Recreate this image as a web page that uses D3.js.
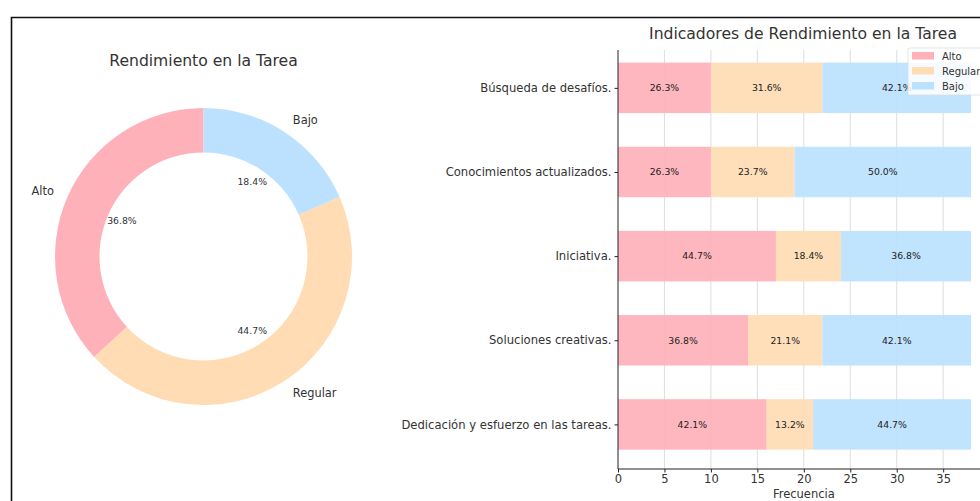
<!DOCTYPE html>
<html>
<head>
<meta charset="utf-8">
<script src="https://cdn.jsdelivr.net/npm/d3@7"></script>
<style>
  html, body { margin: 0; padding: 0; background: #fff; }
  svg { display: block; font-family: "DejaVu Sans", sans-serif; }
</style>
</head>
<body>
<svg id="chart" width="980" height="501"></svg>
<script>
// Overall performance (donut)
const levels = ["Alto", "Regular", "Bajo"];
const levelCounts = [14, 17, 7];
const levelColors = ["#ffb1ba", "#ffdcb4", "#bbe1fe"];

// Indicators (stacked horizontal bars), counts out of 38
const indicators = [
  "Búsqueda de desafíos.",
  "Conocimientos actualizados.",
  "Iniciativa.",
  "Soluciones creativas.",
  "Dedicación y esfuerzo en las tareas."
];
const altoCounts = [10, 10, 17, 14, 16];
const regularCounts = [12, 9, 7, 8, 5];
const bajoCounts = [16, 19, 14, 16, 17];
const xTicks = [0, 5, 10, 15, 20, 25, 30, 35];

const svg = d3.select("#chart");
const textColor = "#333";

// Frame around the figure
svg.append("path")
  .attr("d", "M11.5,501 L11.5,17.5 L980,17.5")
  .attr("fill", "none").attr("stroke", "#111").attr("stroke-width", 1.6);

// ---------- Donut ----------
const cx = 203.5, cy = 256.5, rOuter = 148.5, rInner = 104;
const donut = svg.append("g").attr("transform", `translate(${cx},${cy})`);

donut.append("text")
  .attr("x", 0).attr("y", 60 - cy + 5.5)
  .attr("text-anchor", "middle")
  .attr("font-size", 15.6).attr("fill", textColor)
  .text("Rendimiento en la Tarea");

// slices run counter-clockwise from 12 o'clock: Alto, Regular, Bajo
const total = d3.sum(levelCounts);
const pieData = levels.map((name, i) => ({ name, value: levelCounts[i], color: levelColors[i] }));
let acc = 0;
pieData.forEach(d => {
  d.startAngle = -(acc + d.value) / total * 2 * Math.PI;
  d.endAngle = -acc / total * 2 * Math.PI;
  acc += d.value;
});
const arc = d3.arc().innerRadius(rInner).outerRadius(rOuter);
donut.selectAll("path.slice").data(pieData).join("path")
  .attr("class", "slice")
  .attr("d", arc)
  .attr("fill", d => d.color);

const pos = (d, r) => {
  const a = (d.startAngle + d.endAngle) / 2; // angle clockwise from top
  return [r * Math.sin(a), -r * Math.cos(a)];
};
donut.selectAll("text.lab").data(pieData).join("text")
  .attr("class", "lab")
  .attr("x", d => pos(d, rOuter * 1.1)[0])
  .attr("y", d => pos(d, rOuter * 1.1)[1])
  .attr("dy", "0.35em")
  .attr("text-anchor", d => pos(d, 1)[0] < 0 ? "end" : "start")
  .attr("font-size", 11.4).attr("fill", textColor)
  .text(d => d.name);
donut.selectAll("text.pct").data(pieData).join("text")
  .attr("class", "pct")
  .attr("x", d => pos(d, rOuter * 0.6)[0])
  .attr("y", d => pos(d, rOuter * 0.6)[1])
  .attr("dy", "0.35em")
  .attr("text-anchor", "middle")
  .attr("font-size", 9.3).attr("fill", textColor)
  .text(d => (d.value / total * 100).toFixed(1) + "%");

// ---------- Stacked bars ----------
const x = d3.scaleLinear().domain([0, 39.9]).range([618, 988.7]);
const y = d3.scaleLinear().domain([-0.45, 4.53]).range([50, 469]);
const barH = 0.6 * (y(1) - y(0));

const bars = svg.append("g");

// vertical grid
bars.selectAll("line.grid").data(xTicks.slice(1)).join("line")
  .attr("class", "grid")
  .attr("x1", d => x(d)).attr("x2", d => x(d))
  .attr("y1", 50).attr("y2", 469)
  .attr("stroke", "#d6d6d6").attr("stroke-width", 0.8);

const rows = indicators.map((name, i) => ({
  name, i, Alto: altoCounts[i], Regular: regularCounts[i], Bajo: bajoCounts[i]
}));
const stack = d3.stack().keys(levels)(rows);
stack.forEach((layer, k) => {
  const g = bars.append("g");
  g.selectAll("rect").data(layer).join("rect")
    .attr("x", d => x(d[0]))
    .attr("width", d => x(d[1]) - x(d[0]))
    .attr("y", d => y(d.data.i) - barH / 2)
    .attr("height", barH)
    .attr("fill", levelColors[k])
    .attr("fill-opacity", 0.92);
  g.selectAll("text").data(layer).join("text")
    .attr("x", d => (x(d[0]) + x(d[1])) / 2)
    .attr("y", d => y(d.data.i))
    .attr("dy", "0.35em")
    .attr("text-anchor", "middle")
    .attr("font-size", 9.3).attr("fill", "#222")
    .text(d => {
      const tot = d.data.Alto + d.data.Regular + d.data.Bajo;
      return ((d[1] - d[0]) / tot * 100).toFixed(1) + "%";
    });
});

// axes
const xAxis = svg.append("g").attr("transform", "translate(0,469)")
  .call(d3.axisBottom(x).tickValues(xTicks).tickSize(3.5).tickPadding(2));
xAxis.select(".domain").attr("d", `M618,0H980`).attr("stroke", "#222");
xAxis.selectAll("text").attr("font-size", 11.5).attr("fill", textColor)
  .attr("font-family", "DejaVu Sans");
xAxis.selectAll(".tick line").attr("stroke", "#222");

const yAxis = svg.append("g").attr("transform", "translate(618,0)")
  .call(d3.axisLeft(y).tickValues(d3.range(indicators.length))
    .tickFormat(i => indicators[i]).tickSize(3.5).tickPadding(3));
yAxis.select(".domain").attr("d", "M0,50V469").attr("stroke", "#222");
yAxis.selectAll("text").attr("font-size", 11.6).attr("fill", textColor)
  .attr("font-family", "DejaVu Sans");
yAxis.selectAll(".tick line").attr("stroke", "#222");

svg.append("text")
  .attr("x", x(20)).attr("y", 497.5)
  .attr("text-anchor", "middle")
  .attr("font-size", 11.5).attr("fill", textColor)
  .text("Frecuencia");

svg.append("text")
  .attr("x", 803).attr("y", 38.5)
  .attr("text-anchor", "middle")
  .attr("font-size", 15.6).attr("fill", textColor)
  .text("Indicadores de Rendimiento en la Tarea");

// legend
const leg = svg.append("g").attr("transform", "translate(908,48)");
leg.append("rect").attr("x", 0).attr("y", 0).attr("width", 90).attr("height", 47)
  .attr("rx", 2).attr("fill", "#fff").attr("fill-opacity", 0.85)
  .attr("stroke", "#ddd").attr("stroke-width", 0.8);
levels.forEach((name, k) => {
  leg.append("rect").attr("x", 4).attr("y", 4 + k * 15).attr("width", 22).attr("height", 7.5)
    .attr("fill", levelColors[k]);
  leg.append("text").attr("x", 34).attr("y", 8 + k * 15).attr("dy", "0.35em")
    .attr("font-size", 10).attr("fill", textColor).text(name);
});
</script>
</body>
</html>
